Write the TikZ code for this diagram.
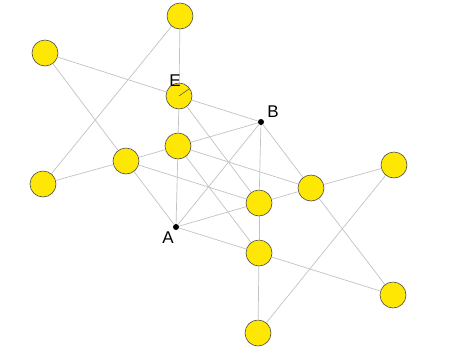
\documentclass[tikz,border=0pt]{standalone}
\usepackage{fontspec}
\setmainfont{Liberation Sans}
\usetikzlibrary{positioning}
\tikzset{
  vtx/.style={circle,draw=black!70,fill=yellow!90!orange,minimum size=26pt,inner sep=0pt,line width=0.6pt},
  pt/.style={circle,fill=black,minimum size=6pt,inner sep=0pt},
  uedge/.style={draw=black!24,line width=0.7pt},
  lbl/.style={font=\fontsize{17}{17}\selectfont}
}
\begin{document}
\begin{tikzpicture}[x=1pt,y=-1pt]
\useasboundingbox (0,0) rectangle (463,357);

% vertices
\node[vtx] (t) at (180,16) {};
\node[vtx] (l1) at (45,53) {};
\node[vtx] (e) at (179,96) {};
\node[vtx] (c1) at (178,146) {};
\node[vtx] (m) at (126,161) {};
\node[vtx] (l2) at (43,184) {};
\node[vtx] (r1) at (311,188) {};
\node[vtx] (r2) at (394,165) {};
\node[vtx] (c2) at (259,203) {};
\node[vtx] (c3) at (259,253) {};
\node[vtx] (r3) at (393,295) {};
\node[vtx] (b) at (258,333) {};
\node[pt] (pa) at (176,227) {};
\node[pt] (pb) at (261,122) {};

% edges
\draw[uedge] (t) -- (e);
\draw[uedge] (t) -- (l2);
\draw[uedge] (l1) -- (e);
\draw[uedge] (e) -- (pb);
\draw[uedge] (l1) -- (m);
\draw[uedge] (m) -- (pa);
\draw[uedge] (l2) -- (m);
\draw[uedge] (m) -- (c1);
\draw[uedge] (c1) -- (pb);
\draw[uedge] (e) -- (c1);
\draw[uedge] (c1) -- (pa);
\draw[uedge] (e) -- (c2);
\draw[uedge] (c1) -- (c3);
\draw[uedge] (c1) -- (r1);
\draw[uedge] (pb) -- (r1);
\draw[uedge] (r1) -- (r3);
\draw[uedge] (m) -- (c2);
\draw[uedge] (pa) -- (c2);
\draw[uedge] (c2) -- (r1);
\draw[uedge] (r1) -- (r2);
\draw[uedge] (pa) -- (c3);
\draw[uedge] (c3) -- (r3);
\draw[uedge] (pa) -- (pb);
\draw[uedge] (pb) -- (c2);
\draw[uedge] (c2) -- (c3);
\draw[uedge] (c3) -- (b);
\draw[uedge] (r2) -- (b);

% labels
\node[lbl] (la) at (168,238) {A};
\node[lbl] (lb) at (273,112) {B};
\node[lbl] (le) at (175,81) {E};
\coordinate (etip) at (189,89);
\draw[black!70,line width=0.5pt] (e.center) -- (etip);
\end{tikzpicture}
\end{document}
